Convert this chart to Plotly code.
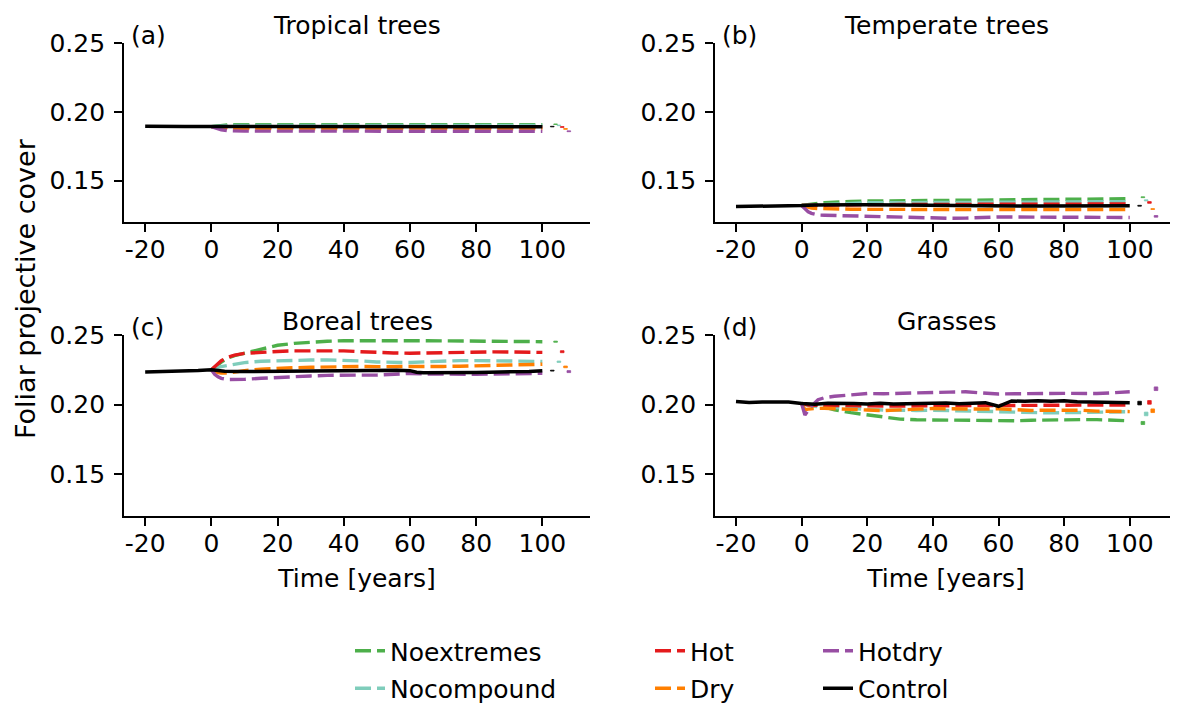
import plotly.graph_objects as go
from plotly.subplots import make_subplots

# ---------------- data ----------------
PANELS = ["(a)", "(b)", "(c)", "(d)"]
TITLES = ["Tropical trees", "Temperate trees", "Boreal trees", "Grasses"]
SERIES = ["Noextremes", "Nocompound", "Hot", "Dry", "Hotdry", "Control"]
COLORS = ["#4daf4a", "#7fcdbb", "#e41a1c", "#ff7f00", "#984ea3", "#000000"]

# control run time axis (years)
T_CONTROL = [-20, -16, -12, -8, -4, 0, 4, 8, 12, 16, 20, 24, 28, 32, 36, 40, 44, 48,
             52, 56, 60, 62, 64, 68, 72, 76, 80, 84, 88, 92, 96, 100]
# scenario runs time axis (years)
T_SCEN = [0, 1, 2, 3, 5, 7, 10, 15, 20, 25, 30, 35, 40, 45, 50, 55, 60, 65, 70, 75,
          80, 85, 90, 95, 100]

# (a) Tropical trees
tropical_control = [0.1895, 0.1893, 0.1894, 0.1893, 0.1894, 0.1894, 0.1891, 0.1890, 0.1890,
                    0.1891, 0.1891, 0.1892, 0.1893, 0.1892, 0.1891, 0.1892, 0.1891, 0.1890,
                    0.1891, 0.1892, 0.1891, 0.1890, 0.1890, 0.1891, 0.1891, 0.1890, 0.1891,
                    0.1892, 0.1891, 0.1890, 0.1891, 0.1891]
tropical_noextremes = [0.1893, 0.1896, 0.1899, 0.1902, 0.1905, 0.1906, 0.1906, 0.1907, 0.1907,
                       0.1908, 0.1909, 0.1910, 0.1909, 0.1909, 0.1908, 0.1909, 0.1908, 0.1907,
                       0.1907, 0.1907, 0.1907, 0.1907, 0.1907, 0.1907, 0.1907]
tropical_nocompound = [0.1893, 0.1895, 0.1897, 0.1899, 0.1900, 0.1901, 0.1901, 0.1902, 0.1902,
                       0.1903, 0.1903, 0.1904, 0.1903, 0.1903, 0.1902, 0.1903, 0.1902, 0.1902,
                       0.1901, 0.1901, 0.1901, 0.1901, 0.1902, 0.1902, 0.1902]
tropical_hot = [0.1893, 0.1892, 0.1891, 0.1890, 0.1889, 0.1889, 0.1889, 0.1889, 0.1889, 0.1890,
                0.1890, 0.1890, 0.1890, 0.1890, 0.1889, 0.1890, 0.1889, 0.1889, 0.1889, 0.1889,
                0.1889, 0.1889, 0.1889, 0.1889, 0.1889]
tropical_dry = [0.1893, 0.1889, 0.1885, 0.1882, 0.1879, 0.1878, 0.1878, 0.1878, 0.1878, 0.1878,
                0.1879, 0.1879, 0.1878, 0.1878, 0.1878, 0.1878, 0.1878, 0.1877, 0.1877, 0.1877,
                0.1877, 0.1877, 0.1877, 0.1877, 0.1877]
tropical_hotdry = [0.1893, 0.1885, 0.1877, 0.1870, 0.1863, 0.1861, 0.1860, 0.1860, 0.1860,
                   0.1859, 0.1860, 0.1860, 0.1860, 0.1860, 0.1860, 0.1860, 0.1859, 0.1859,
                   0.1859, 0.1859, 0.1859, 0.1859, 0.1859, 0.1859, 0.1859]

# (b) Temperate trees
temperate_control = [0.1312, 0.1313, 0.1312, 0.1314, 0.1316, 0.1320, 0.1324, 0.1326, 0.1326,
                     0.1326, 0.1325, 0.1324, 0.1322, 0.1320, 0.1318, 0.1317, 0.1316, 0.1316,
                     0.1316, 0.1317, 0.1316, 0.1316, 0.1316, 0.1316, 0.1316, 0.1317, 0.1316,
                     0.1316, 0.1317, 0.1316, 0.1317, 0.1318]
temperate_noextremes = [0.1320, 0.1324, 0.1328, 0.1331, 0.1336, 0.1340, 0.1345, 0.1349, 0.1352,
                        0.1353, 0.1354, 0.1356, 0.1359, 0.1359, 0.1359, 0.1361, 0.1364, 0.1364,
                        0.1364, 0.1364, 0.1364, 0.1365, 0.1366, 0.1368, 0.1369]
temperate_nocompound = [0.1320, 0.1321, 0.1323, 0.1325, 0.1327, 0.1331, 0.1335, 0.1338, 0.1340,
                        0.1340, 0.1340, 0.1340, 0.1340, 0.1341, 0.1341, 0.1342, 0.1342, 0.1343,
                        0.1344, 0.1344, 0.1345, 0.1346, 0.1347, 0.1347, 0.1347]
temperate_hot = [0.1320, 0.1320, 0.1320, 0.1320, 0.1320, 0.1321, 0.1322, 0.1324, 0.1325, 0.1326,
                 0.1327, 0.1327, 0.1327, 0.1327, 0.1327, 0.1328, 0.1328, 0.1328, 0.1329, 0.1329,
                 0.1330, 0.1330, 0.1331, 0.1331, 0.1331]
temperate_dry = [0.1320, 0.1313, 0.1306, 0.1301, 0.1298, 0.1296, 0.1294, 0.1293, 0.1292, 0.1291,
                 0.1291, 0.1290, 0.1290, 0.1290, 0.1290, 0.1290, 0.1291, 0.1291, 0.1291, 0.1291,
                 0.1291, 0.1291, 0.1291, 0.1291, 0.1291]
temperate_hotdry = [0.1320, 0.1298, 0.1274, 0.1263, 0.1251, 0.1249, 0.1247, 0.1243, 0.1239,
                    0.1237, 0.1235, 0.1231, 0.1227, 0.1227, 0.1228, 0.1233, 0.1237, 0.1236,
                    0.1235, 0.1234, 0.1233, 0.1234, 0.1235, 0.1234, 0.1233]

# (c) Boreal trees
boreal_control = [0.2235, 0.2236, 0.2238, 0.2240, 0.2245, 0.2250, 0.2240, 0.2237, 0.2238,
                  0.2236, 0.2238, 0.2240, 0.2242, 0.2243, 0.2245, 0.2246, 0.2245, 0.2244,
                  0.2245, 0.2246, 0.2244, 0.2232, 0.2229, 0.2228, 0.2230, 0.2229, 0.2231,
                  0.2233, 0.2233, 0.2235, 0.2238, 0.2243]
boreal_noextremes = [0.2250, 0.2265, 0.2287, 0.2305, 0.2335, 0.2352, 0.2370, 0.2402, 0.2426,
                     0.2440, 0.2450, 0.2455, 0.2459, 0.2460, 0.2460, 0.2460, 0.2459, 0.2459,
                     0.2458, 0.2458, 0.2457, 0.2456, 0.2455, 0.2454, 0.2452]
boreal_nocompound = [0.2250, 0.2260, 0.2268, 0.2273, 0.2282, 0.2292, 0.2302, 0.2311, 0.2316,
                     0.2318, 0.2320, 0.2321, 0.2320, 0.2314, 0.2306, 0.2302, 0.2302, 0.2308,
                     0.2314, 0.2316, 0.2316, 0.2315, 0.2314, 0.2312, 0.2310]
boreal_hot = [0.2250, 0.2270, 0.2295, 0.2315, 0.2340, 0.2355, 0.2368, 0.2377, 0.2382, 0.2386,
              0.2387, 0.2387, 0.2386, 0.2380, 0.2374, 0.2371, 0.2369, 0.2372, 0.2375, 0.2378,
              0.2379, 0.2379, 0.2378, 0.2376, 0.2375]
boreal_dry = [0.2250, 0.2238, 0.2230, 0.2226, 0.2226, 0.2233, 0.2244, 0.2254, 0.2261, 0.2265,
              0.2268, 0.2271, 0.2273, 0.2274, 0.2273, 0.2272, 0.2270, 0.2272, 0.2274, 0.2276,
              0.2278, 0.2280, 0.2281, 0.2285, 0.2290]
boreal_hotdry = [0.2250, 0.2218, 0.2200, 0.2189, 0.2180, 0.2178, 0.2181, 0.2189, 0.2196,
                 0.2201, 0.2206, 0.2210, 0.2213, 0.2212, 0.2212, 0.2216, 0.2224, 0.2220,
                 0.2218, 0.2218, 0.2218, 0.2219, 0.2220, 0.2222, 0.2225]

# (d) Grasses
grass_control = [0.2022, 0.2015, 0.2018, 0.2020, 0.2018, 0.2008, 0.2002, 0.2010, 0.2006,
                 0.2008, 0.2005, 0.2009, 0.2004, 0.2007, 0.2010, 0.2008, 0.2012, 0.2006,
                 0.2010, 0.2014, 0.1988, 0.2010, 0.2026, 0.2024, 0.2028, 0.2024, 0.2027,
                 0.2020, 0.2018, 0.2022, 0.2018, 0.2014]
grass_noextremes = [0.2008, 0.2006, 0.2003, 0.2000, 0.1996, 0.1982, 0.1962, 0.1942, 0.1925,
                    0.1910, 0.1896, 0.1891, 0.1889, 0.1888, 0.1889, 0.1886, 0.1882, 0.1884,
                    0.1888, 0.1891, 0.1893, 0.1892, 0.1892, 0.1888, 0.1884]
grass_nocompound = [0.2008, 0.2002, 0.1996, 0.1990, 0.1985, 0.1982, 0.1978, 0.1972, 0.1966,
                    0.1961, 0.1957, 0.1958, 0.1960, 0.1957, 0.1954, 0.1951, 0.1949, 0.1944,
                    0.1939, 0.1941, 0.1942, 0.1944, 0.1947, 0.1949, 0.1949]
grass_hot = [0.2008, 0.2000, 0.1996, 0.1995, 0.1994, 0.1993, 0.1993, 0.1994, 0.1992, 0.1990,
             0.1990, 0.1991, 0.1990, 0.1993, 0.1994, 0.1994, 0.1996, 0.1998, 0.1998, 0.1996,
             0.1995, 0.1996, 0.1997, 0.1996, 0.1997]
grass_dry = [0.2008, 0.1963, 0.1968, 0.1971, 0.1973, 0.1974, 0.1973, 0.1966, 0.1961, 0.1957,
             0.1962, 0.1968, 0.1972, 0.1970, 0.1966, 0.1968, 0.1970, 0.1964, 0.1958, 0.1960,
             0.1962, 0.1960, 0.1953, 0.1950, 0.1950]
grass_hotdry = [0.2008, 0.1925, 0.1958, 0.1990, 0.2035, 0.2050, 0.2060, 0.2072, 0.2080, 0.2078,
                0.2082, 0.2085, 0.2086, 0.2090, 0.2092, 0.2082, 0.2076, 0.2078, 0.2082, 0.2080,
                0.2081, 0.2078, 0.2080, 0.2085, 0.2092]

# end-of-run summaries (order: Control, Noextremes, Nocompound, Hot, Dry, Hotdry)
END_SERIES = ["Control", "Noextremes", "Nocompound", "Hot", "Dry", "Hotdry"]
END_X = [103, 104, 105, 106, 107, 108]
END_MID = [
    [0.1893, 0.1910, 0.1902, 0.1890, 0.1876, 0.1859],
    [0.1318, 0.1380, 0.1357, 0.1342, 0.1294, 0.1241],
    [0.2244, 0.2452, 0.2308, 0.2380, 0.2271, 0.2237],
    [0.2011, 0.1868, 0.1933, 0.2016, 0.1956, 0.2114],
]
END_SPREAD = [
    [0.0004, 0.0004, 0.0004, 0.0006, 0.0006, 0.0006],
    [0.0006, 0.0006, 0.0008, 0.0012, 0.0006, 0.0012],
    [0.0006, 0.0008, 0.0010, 0.0014, 0.0012, 0.0014],
    [0.0026, 0.0022, 0.0026, 0.0026, 0.0026, 0.0026],
]

PANEL_DATA = [
    [tropical_noextremes, tropical_nocompound, tropical_hot, tropical_dry, tropical_hotdry, tropical_control],
    [temperate_noextremes, temperate_nocompound, temperate_hot, temperate_dry, temperate_hotdry, temperate_control],
    [boreal_noextremes, boreal_nocompound, boreal_hot, boreal_dry, boreal_hotdry, boreal_control],
    [grass_noextremes, grass_nocompound, grass_hot, grass_dry, grass_hotdry, grass_control],
]

X_TICKS = [-20, 0, 20, 40, 60, 80, 100]
X_TICKTEXT = ["-20", "0", "20", "40", "60", "80", "100"]
Y_TICKS = [0.15, 0.20, 0.25]
Y_TICKTEXT = ["0.15", "0.20", "0.25"]

# ---------------- figure ----------------
FONT = "DejaVu Sans"
FS = 25
PAGE_OFF = 8  # default page body margin shifts the figure by this much
W, H = 1178 - PAGE_OFF, 705 - PAGE_OFF
PLOT_L, PLOT_R, PLOT_T, PLOT_B = 124, 1177, 43, 516  # target positions in the window
ML, MT = PLOT_L - PAGE_OFF, PLOT_T - PAGE_OFF
MR = W - (PLOT_R - PAGE_OFF)
MB = H - (PLOT_B - PAGE_OFF)
PW, PH = PLOT_R - PLOT_L, PLOT_B - PLOT_T


def px_x(p):
    return (p - PLOT_L) / PW


def px_y(p):
    return (PLOT_B - p) / PH


fig = make_subplots(rows=2, cols=2)
legend_of = {"Noextremes": "legend", "Nocompound": "legend",
             "Hot": "legend2", "Dry": "legend2",
             "Hotdry": "legend3", "Control": "legend3"}

for i in range(4):
    r, c = i // 2 + 1, i % 2 + 1
    for name, color, vals in zip(SERIES, COLORS, PANEL_DATA[i]):
        is_ctrl = name == "Control"
        fig.add_trace(go.Scatter(
            x=T_CONTROL if is_ctrl else T_SCEN, y=vals, mode="lines", name=name,
            line=dict(color=color, width=3.5 if is_ctrl else 3.4,
                      dash="solid" if is_ctrl else "16px,6px"),
            legend=legend_of[name], legendgroup=name, showlegend=(i == 0),
        ), row=r, col=c)
    for name, xe, mid, spr in zip(END_SERIES, END_X, END_MID[i], END_SPREAD[i]):
        color = COLORS[SERIES.index(name)]
        fig.add_trace(go.Bar(
            x=[xe], y=[spr], base=[mid - spr / 2], width=1.1,
            marker=dict(color=color, line=dict(color=color, width=0.8)),
            showlegend=False, hoverinfo="skip",
        ), row=r, col=c)

col_dom = [[0, px_x(590)], [px_x(715), 1.0]]
row_dom = [[px_y(222), 1.0], [0.0, px_y(335)]]

axis_common = dict(
    showline=True, linecolor="black", linewidth=1.8, ticks="outside", ticklen=8,
    tickwidth=1.6, tickcolor="black", showgrid=False, zeroline=False,
    tickfont=dict(family=FONT, size=FS, color="black"),
)
for i in range(4):
    r, c = i // 2, i % 2
    suffix = "" if i == 0 else str(i + 1)
    fig.layout["xaxis" + suffix].update(
        domain=col_dom[c], range=[-26.4, 114.4], tickvals=X_TICKS, ticktext=X_TICKTEXT,
        ticklabelstandoff=-4, **axis_common)
    fig.layout["yaxis" + suffix].update(
        domain=row_dom[r], range=[0.12, 0.25], tickvals=Y_TICKS, ticktext=Y_TICKTEXT,
        ticklabelstandoff=4, **axis_common)
    if r == 1:
        fig.layout["xaxis" + suffix].update(
            title=dict(text="Time [years]", font=dict(family=FONT, size=FS, color="black"),
                       standoff=13))

annotations = []
title_y = [1.095, 1.095, 1.072, 1.072]
for i in range(4):
    suffix = "" if i == 0 else str(i + 1)
    annotations.append(dict(
        text=TITLES[i], xref="x" + suffix + " domain", yref="y" + suffix + " domain",
        x=0.5, y=title_y[i], xanchor="center", yanchor="middle", showarrow=False,
        font=dict(family=FONT, size=FS, color="black")))
    annotations.append(dict(
        text=PANELS[i], xref="x" + suffix + " domain", yref="y" + suffix + " domain",
        x=0.010, y=1.042, xanchor="left", yanchor="middle", showarrow=False,
        font=dict(family=FONT, size=FS, color="black")))
annotations.append(dict(
    text="Foliar projective cover", xref="paper", yref="paper", x=px_x(25),
    y=px_y(289), xanchor="center", yanchor="middle", textangle=-90, showarrow=False,
    font=dict(family=FONT, size=27, color="black")))

leg_common = dict(orientation="v", yanchor="top", xanchor="left", bgcolor="rgba(0,0,0,0)",
                  font=dict(family=FONT, size=FS, color="black"), tracegroupgap=2,
                  itemclick=False, itemdoubleclick=False)
leg_top = px_y(628)

fig.update_layout(
    width=W, height=H, margin=dict(l=ML, r=MR, t=MT, b=MB, autoexpand=False),
    plot_bgcolor="white", paper_bgcolor="white", barmode="overlay",
    font=dict(family=FONT, size=FS, color="black"),
    annotations=annotations,
    legend=dict(x=px_x(350), y=leg_top, **leg_common),
    legend2=dict(x=px_x(650), y=leg_top, **leg_common),
    legend3=dict(x=px_x(818), y=leg_top, **leg_common),
)

fig.write_html("out.html")
